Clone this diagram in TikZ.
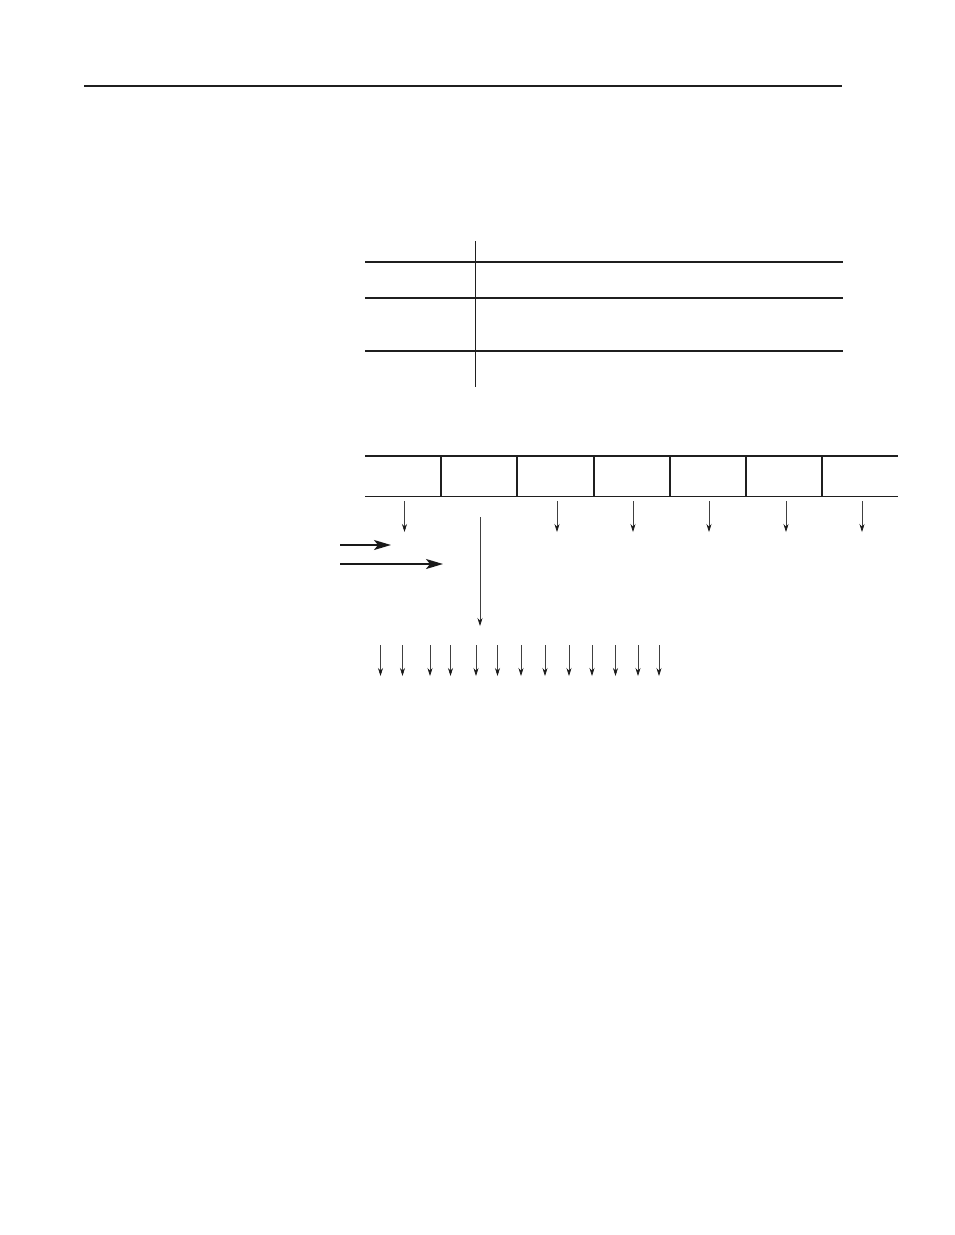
\documentclass[tikz,border=0pt]{standalone}
\usetikzlibrary{arrows.meta}
\begin{document}
\begin{tikzpicture}[x=1pt,y=-1pt,
  rule/.style={line width=1.4pt,color=black!88},
  thinarrow/.style={line width=0.6pt,color=black!75,-{Stealth[length=8pt,width=5pt,color=black!90]}},
  boldarrow/.style={line width=1.8pt,color=black!90,-{Stealth[length=17pt,width=10pt,inset=4pt]}}]
\useasboundingbox (0,0) rectangle (954,1235);
% top rule
\coordinate (rl) at (84,86); \coordinate (rr) at (842,86);
\draw[rule] (rl) -- (rr);
% table
\coordinate (tvt) at (475.5,241); \coordinate (tvb) at (475.5,387);
\draw[rule] (tvt) -- (tvb);
\foreach \i/\y in {1/262,2/298,3/351}{
  \coordinate (tl\i) at (365,\y); \coordinate (tr\i) at (843,\y);
  \draw[rule] (tl\i) -- (tr\i);
}
% register boxes
\coordinate (bt0) at (365,456); \coordinate (btR) at (898,456);
\coordinate (bb0) at (365,496.5); \coordinate (bbR) at (898,496.5);
\draw[rule] (bt0) -- (btR);
\draw[rule] (bb0) -- (bbR);
\foreach \i/\x in {1/441,2/517,3/594,4/670,5/746,6/822}{
  \coordinate (dt\i) at (\x,456); \coordinate (db\i) at (\x,496.5);
  \draw[rule] (dt\i) -- (db\i);
}
% short arrows below cells
\foreach \i/\x in {1/404.5,3/557,4/633,5/709,6/786,7/862}{
  \coordinate (sa\i) at (\x,501); \coordinate (sb\i) at (\x,532);
  \draw[thinarrow] (sa\i) -- (sb\i);
}
% long arrow from cell 2
\coordinate (la) at (480,517); \coordinate (lb) at (480,626);
\draw[thinarrow] (la) -- (lb);
% bold horizontal arrows
\coordinate (h1a) at (340,545); \coordinate (h1b) at (391,545);
\coordinate (h2a) at (340,564); \coordinate (h2b) at (443,564);
\draw[boldarrow] (h1a) -- (h1b);
\draw[boldarrow] (h2a) -- (h2b);
% row of bit arrows
\foreach \i/\x in {1/380.5,2/402.5,3/430,4/450.5,5/476,6/497.5,7/521,8/545,9/569,10/592,11/615.5,12/638,13/659}{
  \coordinate (ba\i) at (\x,645); \coordinate (bb\i) at (\x,676);
  \draw[thinarrow] (ba\i) -- (bb\i);
}
\end{tikzpicture}
\end{document}
